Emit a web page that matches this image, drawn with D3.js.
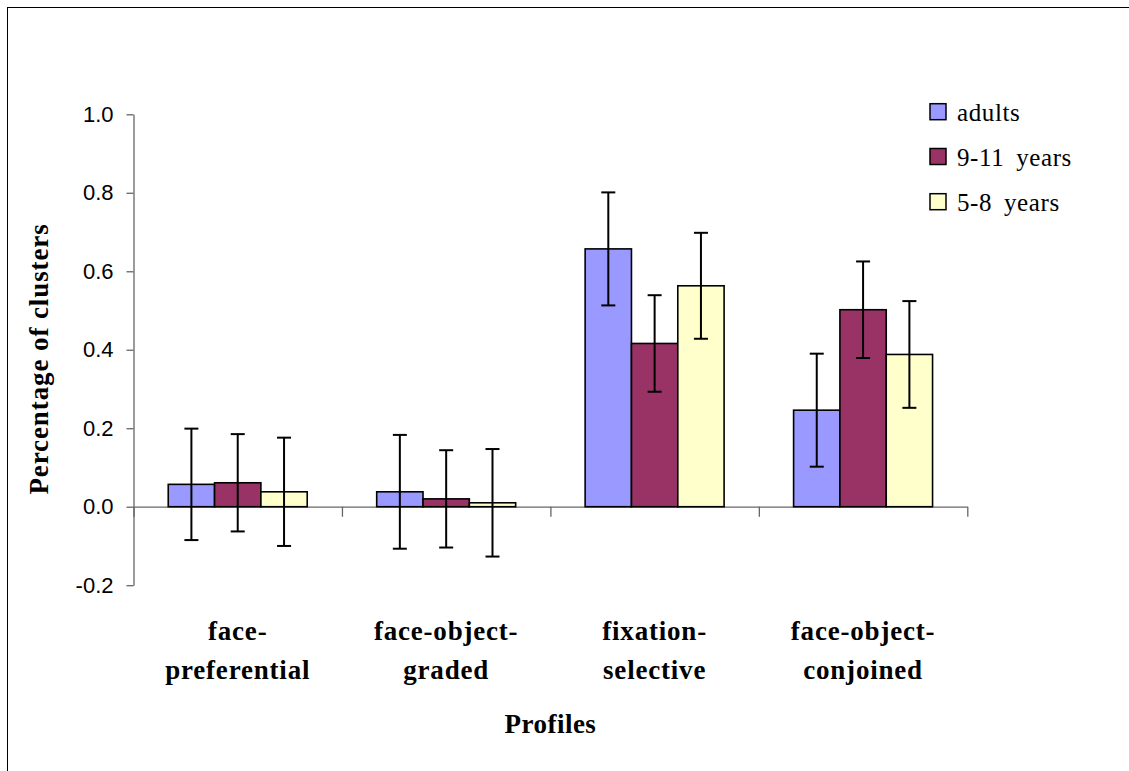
<!DOCTYPE html>
<html>
<head>
<meta charset="utf-8">
<script src="https://cdn.jsdelivr.net/npm/d3@7"></script>
<style>
  html, body { margin: 0; padding: 0; background: #fff; overflow: hidden; }
  svg { display: block; }
  .serif { font-family: "Liberation Serif", "Times New Roman", Times, serif; }
  .sans { font-family: "Liberation Sans", Arial, Helvetica, sans-serif; }
</style>
</head>
<body>
<svg id="chart" width="1129" height="771"></svg>
<script>
// Cluster profiles by age group: mean proportion of clusters with error bars
const categories = ["face-preferential", "face-object-graded", "fixation-selective", "face-object-conjoined"];
const categoryLines = [["face-", "preferential"], ["face-object-", "graded"], ["fixation-", "selective"], ["face-object-", "conjoined"]];
const seriesNames = ["adults", "9-11 years", "5-8 years"];
const seriesColors = ["#9999FF", "#993366", "#FFFFCC"];

const adults     = [0.057, 0.038, 0.657, 0.246];
const adultsErr  = [0.142, 0.145, 0.144, 0.144];
const age9to11    = [0.061, 0.020, 0.416, 0.502];
const age9to11Err = [0.124, 0.124, 0.123, 0.123];
const age5to8     = [0.038, 0.010, 0.563, 0.388];
const age5to8Err  = [0.138, 0.137, 0.135, 0.136];

const yTicks = [-0.2, 0.0, 0.2, 0.4, 0.6, 0.8, 1.0];

const seriesValues = [adults, age9to11, age5to8];
const seriesErrors = [adultsErr, age9to11Err, age5to8Err];

const rows = [];
categories.forEach((c, ci) => {
  seriesNames.forEach((s, si) => {
    rows.push({ category: c, series: s, si, value: seriesValues[si][ci], err: seriesErrors[si][ci] });
  });
});

const svg = d3.select("#chart");

// outer chart frame
svg.append("rect")
  .attr("x", 7.5).attr("y", 7.5)
  .attr("width", 1300).attr("height", 900)
  .attr("fill", "none").attr("stroke", "#000").attr("stroke-width", 1);

const plot = { left: 133.5, right: 967.3, top: 114.3, bottom: 585.2 };

const y = d3.scaleLinear().domain([-0.2, 1.0]).range([plot.bottom, plot.top]);
const x0 = d3.scaleBand().domain(categories).range([plot.left, plot.right]).paddingInner(0).paddingOuter(0);
const x1 = d3.scaleBand().domain(seriesNames).range([0, x0.bandwidth()]).paddingInner(0).paddingOuter(0.75);
const xEdges = d3.scaleLinear().domain([0, categories.length]).range([plot.left, plot.right]);

const axisColor = "#666";
const fmt1 = d3.format(".1f");
const tickFmt = v => fmt1(v).replace("\u2212", "-");

// y axis
const yAxis = svg.append("g")
  .attr("transform", `translate(${plot.left},0)`)
  .call(d3.axisLeft(y).tickValues(yTicks).tickFormat(tickFmt).tickSize(7).tickSizeOuter(0).tickPadding(13));
yAxis.attr("font-family", null).attr("font-size", null);
yAxis.select(".domain").attr("stroke", axisColor).attr("stroke-width", 1.3);
yAxis.selectAll(".tick line").attr("stroke", axisColor).attr("stroke-width", 1.3);
yAxis.selectAll(".tick text")
  .attr("class", "sans").style("font-size", "22px").attr("fill", "#000");

// category axis along zero
const xAxis = svg.append("g")
  .attr("transform", `translate(0,${y(0)})`)
  .call(d3.axisBottom(xEdges).tickValues(d3.range(categories.length + 1)).tickFormat("").tickSize(10).tickSizeOuter(0));
xAxis.select(".domain").attr("stroke", axisColor).attr("stroke-width", 1.3);
xAxis.selectAll(".tick line").attr("stroke", axisColor).attr("stroke-width", 1.3);

// bars
const bars = svg.append("g");
bars.selectAll("rect")
  .data(rows)
  .join("rect")
  .attr("x", d => x0(d.category) + x1(d.series))
  .attr("width", x1.bandwidth())
  .attr("y", d => y(Math.max(0, d.value)))
  .attr("height", d => Math.abs(y(d.value) - y(0)))
  .attr("fill", d => seriesColors[d.si])
  .attr("stroke", "#000")
  .attr("stroke-width", 1.6);

// error bars
const capHalf = 7;
const errs = svg.append("g").attr("stroke", "#000").attr("stroke-width", 2);
rows.forEach(d => {
  const cx = x0(d.category) + x1(d.series) + x1.bandwidth() / 2;
  const yHi = y(d.value + d.err), yLo = y(d.value - d.err);
  errs.append("line").attr("x1", cx).attr("x2", cx).attr("y1", yHi).attr("y2", yLo);
  errs.append("line").attr("x1", cx - capHalf).attr("x2", cx + capHalf).attr("y1", yHi).attr("y2", yHi);
  errs.append("line").attr("x1", cx - capHalf).attr("x2", cx + capHalf).attr("y1", yLo).attr("y2", yLo);
});

// category labels
categories.forEach((c, ci) => {
  const cx = x0(c) + x0.bandwidth() / 2;
  const t = svg.append("text")
    .attr("class", "serif")
    .style("font-size", "27px").style("font-weight", "bold").style("letter-spacing", "0.8px")
    .attr("text-anchor", "middle");
  categoryLines[ci].forEach((line, li) => {
    t.append("tspan").attr("x", cx).attr("y", 640 + li * 39).text(line);
  });
});

// axis titles
svg.append("text")
  .attr("class", "serif")
  .attr("x", (plot.left + plot.right) / 2).attr("y", 733)
  .attr("text-anchor", "middle")
  .style("font-size", "27px").style("font-weight", "bold").style("letter-spacing", "0.5px")
  .text("Profiles");

svg.append("text")
  .attr("class", "serif")
  .attr("transform", `translate(48,359) rotate(-90)`)
  .attr("text-anchor", "middle")
  .style("font-size", "27px").style("font-weight", "bold").style("letter-spacing", "0.9px")
  .text("Percentage of clusters");

// legend
const legend = svg.append("g").attr("transform", "translate(930,0)");
const legendY = [111.7, 156.5, 201.7];
seriesNames.forEach((s, si) => {
  const g = legend.append("g").attr("transform", `translate(0,${legendY[si]})`);
  g.append("rect")
    .attr("x", 0).attr("y", -8).attr("width", 16).attr("height", 16)
    .attr("fill", seriesColors[si]).attr("stroke", "#000").attr("stroke-width", 1.5);
  g.append("text")
    .attr("class", "serif")
    .attr("x", 27).attr("y", 9)
    .style("font-size", "25px").style("letter-spacing", "0.6px").style("word-spacing", "5px")
    .text(s);
});
</script>
</body>
</html>
